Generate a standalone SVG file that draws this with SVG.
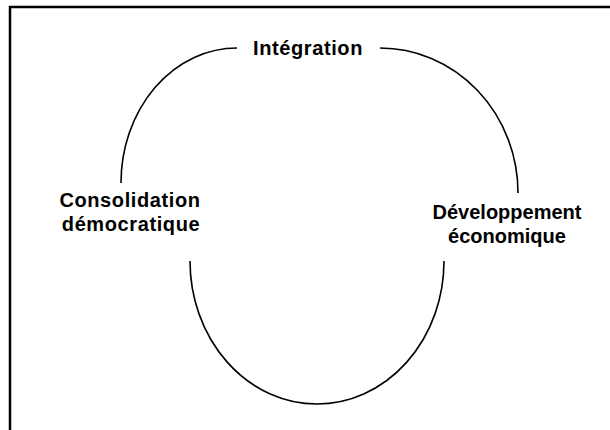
<svg xmlns="http://www.w3.org/2000/svg" width="610" height="430" viewBox="0 0 610 430">
<style>
.lbl{font-family:"Liberation Sans",Arial,sans-serif;font-weight:bold;font-size:20px;fill:#000;text-anchor:middle}
.wide{letter-spacing:0.6px}
.arc{fill:none;stroke:#000;stroke-width:1.6}
.frame{fill:none;stroke:#000;stroke-width:2.5}
</style>
<rect width="610" height="430" fill="#fff"/>
<path class="frame" d="M10,430 V7 H610"/>
<g id="connectors">
<path class="arc" d="M121,183 A116,135 0 0 1 237,48"/>
<path class="arc" d="M380,48 A138,145 0 0 1 518,193"/>
<path class="arc" d="M190,261 A127,143 0 0 0 317,404 A127,143 0 0 0 444,261"/>
</g>
<g id="integration"><text class="lbl wide" x="308" y="55">Intégration</text></g>
<g id="consolidation"><text class="lbl wide" x="130" y="207">Consolidation</text><text class="lbl wide" x="131" y="231">démocratique</text></g>
<g id="developpement"><text class="lbl" x="507" y="219">Développement</text><text class="lbl" x="507" y="243">économique</text></g>
</svg>
